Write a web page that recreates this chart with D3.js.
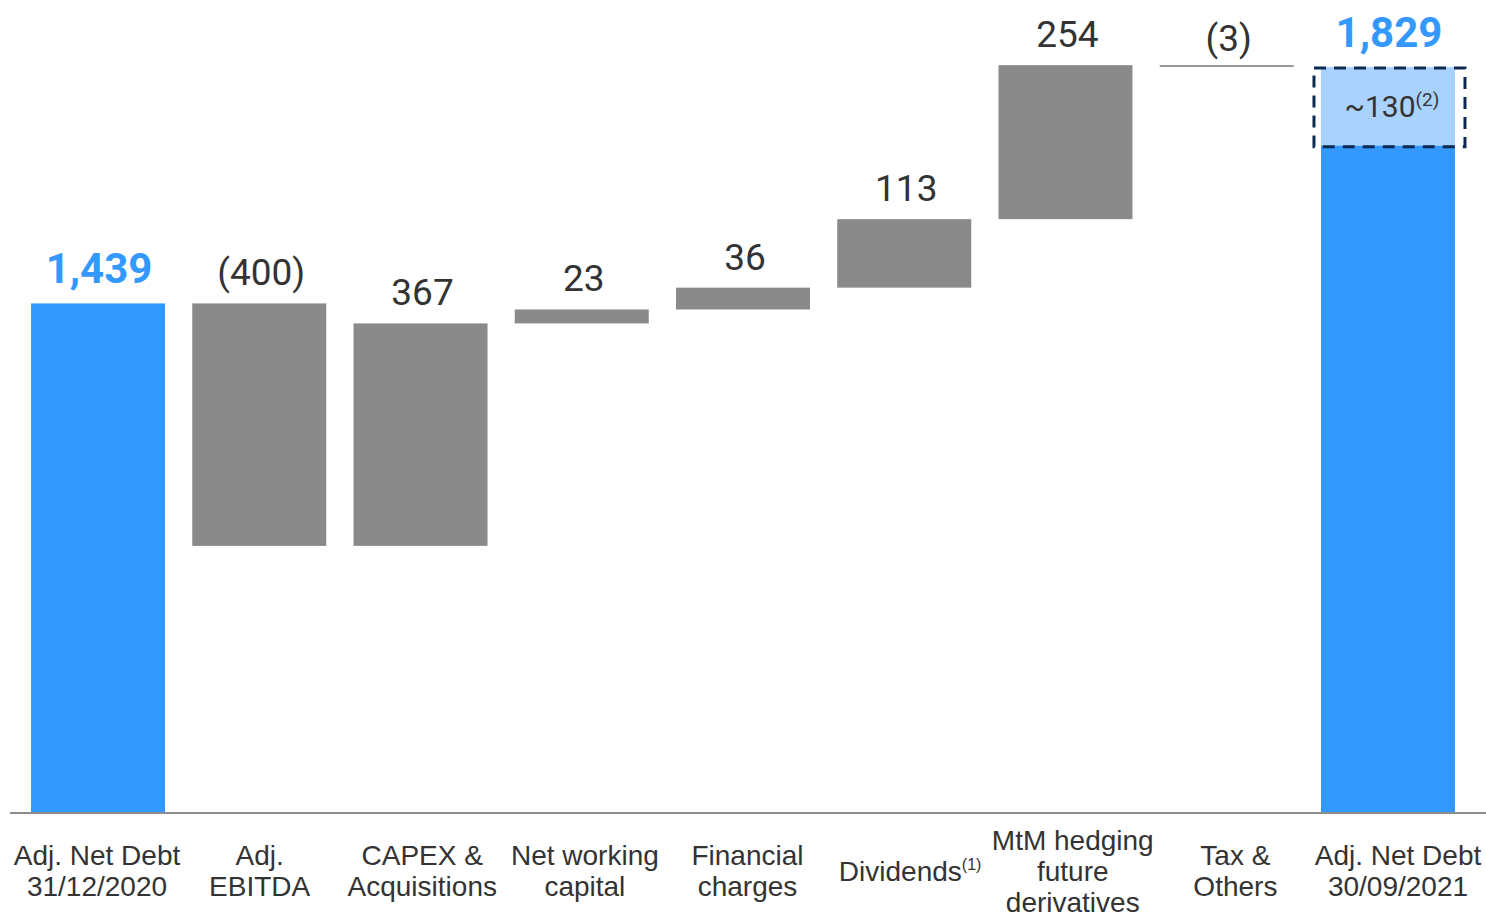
<!DOCTYPE html>
<html>
<head>
<meta charset="utf-8">
<script src="https://cdn.jsdelivr.net/npm/d3@7"></script>
<style>
  html, body { margin: 0; padding: 0; background: #fff; }
  svg { display: block; font-family: Roboto, "Noto Sans", sans-serif; }
</style>
</head>
<body>
<svg id="chart" width="1486" height="923"></svg>
<script>
// ---- data ----
const categories = [
  ["Adj. Net Debt", "31/12/2020"],
  ["Adj.", "EBITDA"],
  ["CAPEX &", "Acquisitions"],
  ["Net working", "capital"],
  ["Financial", "charges"],
  ["Dividends"],
  ["MtM hedging", "future", "derivatives"],
  ["Tax &", "Others"],
  ["Adj. Net Debt", "30/09/2021"]
];
const categorySup = ["", "", "", "", "", "(1)", "", "", ""];
const changes = [1439, -400, 367, 23, 36, 113, 254, -3, 1829];
const barTypes = ["total", "delta", "delta", "delta", "delta", "delta", "delta", "delta", "total"];
const valueLabels = ["1,439", "(400)", "367", "23", "36", "113", "254", "(3)", "1,829"];
const highlightValue = 130;
const highlightLabel = "~130";
const highlightSup = "(2)";
const axisFloor = 600; // broken axis: baseline value

// ---- layout ----
const W = 1486, H = 923;
const baseY = 812;
const svg = d3.select("#chart");

const x = d3.scaleBand()
  .domain(d3.range(categories.length))
  .range([17.4, 1468.6])
  .paddingInner(0.169)
  .paddingOuter(0.0845);

// category label positions (slightly wider spread than bars)
const xl = d3.scalePoint()
  .domain(d3.range(categories.length))
  .range([97, 1398]);

const y = d3.scaleLinear().domain([axisFloor, 1829]).range([baseY, 67]);

// running totals
let running = 0;
const bars = changes.map((v, i) => {
  let start, end;
  if (barTypes[i] === "total") { start = axisFloor; end = v; running = v; }
  else { start = running; end = running + v; running = end; }
  return { i, start, end, v, type: barTypes[i] };
});

const BLUE = "#3399ff", GRAY = "#8a8a8a", LIGHT = "#a9d2ff", NAVY = "#0d2b52", TXT = "#333333";

// bars
bars.forEach(b => {
  const top = y(Math.max(b.start, b.end));
  const bot = y(Math.min(b.start, b.end));
  const bx = x(b.i), bw = x.bandwidth();
  if (b.type === "total") {
    svg.append("rect").attr("x", bx).attr("y", top).attr("width", bw).attr("height", bot - top).attr("fill", BLUE);
  } else if (Math.abs(b.v) < 10) {
    svg.append("line").attr("x1", bx).attr("x2", bx + bw)
      .attr("y1", (top + bot) / 2).attr("y2", (top + bot) / 2)
      .attr("stroke", "#9a9a9a").attr("stroke-width", 2);
  } else {
    svg.append("rect").attr("x", bx).attr("y", top).attr("width", bw).attr("height", bot - top).attr("fill", GRAY);
  }
});

// highlight on final bar
const last = bars[bars.length - 1];
const hx = x(last.i), hw = x.bandwidth();
const hTop = y(last.end), hBot = y(last.end - highlightValue);
svg.append("rect").attr("x", hx).attr("y", hTop).attr("width", hw).attr("height", hBot - hTop).attr("fill", LIGHT);
svg.append("rect").attr("x", hx - 7).attr("y", hTop + 1).attr("width", hw + 17).attr("height", hBot - hTop)
  .attr("fill", "none").attr("stroke", NAVY).attr("stroke-width", 3).attr("stroke-dasharray", "12,8");
const ht = svg.append("text").attr("x", hx + hw / 2 + 4).attr("y", (hTop + hBot) / 2 + 11)
  .attr("text-anchor", "middle").attr("fill", TXT).style("font-size", "30px");
ht.append("tspan").text(highlightLabel);
ht.append("tspan").attr("dy", -11).style("font-size", "19px").text(highlightSup);

// axis line
svg.append("line").attr("x1", 10).attr("x2", W).attr("y1", baseY + 1).attr("y2", baseY + 1)
  .attr("stroke", "#8c8c8c").attr("stroke-width", 2);

// value labels
bars.forEach(b => {
  const top = y(Math.max(b.start, b.end));
  const isTotal = b.type === "total";
  svg.append("text")
    .attr("x", x(b.i) + x.bandwidth() / 2 + (isTotal ? 1 : 2))
    .attr("y", top - (isTotal ? 20 : (Math.abs(b.v) < 10 ? 14 : 18)))
    .attr("text-anchor", "middle")
    .attr("fill", isTotal ? BLUE : TXT)
    .style("font-size", isTotal ? "42px" : "37px")
    .style("font-weight", isTotal ? "700" : "400")
    .text(valueLabels[b.i]);
});

// category labels
const lineH = 31;
categories.forEach((lines, i) => {
  const cx = xl(i);
  const n = lines.length;
  const startY = n === 1 ? 881 : (n === 3 ? 850 : 865);
  lines.forEach((ln, k) => {
    const t = svg.append("text").attr("x", cx).attr("y", startY + k * lineH)
      .attr("text-anchor", "middle").attr("fill", TXT)
      .style("font-family", "'Liberation Sans', Arial, sans-serif")
      .style("font-size", "28px");
    t.append("tspan").text(ln);
    if (k === lines.length - 1 && categorySup[i]) {
      t.append("tspan").attr("dy", -11).style("font-size", "16px").text(categorySup[i]);
    }
  });
});
</script>
</body>
</html>
